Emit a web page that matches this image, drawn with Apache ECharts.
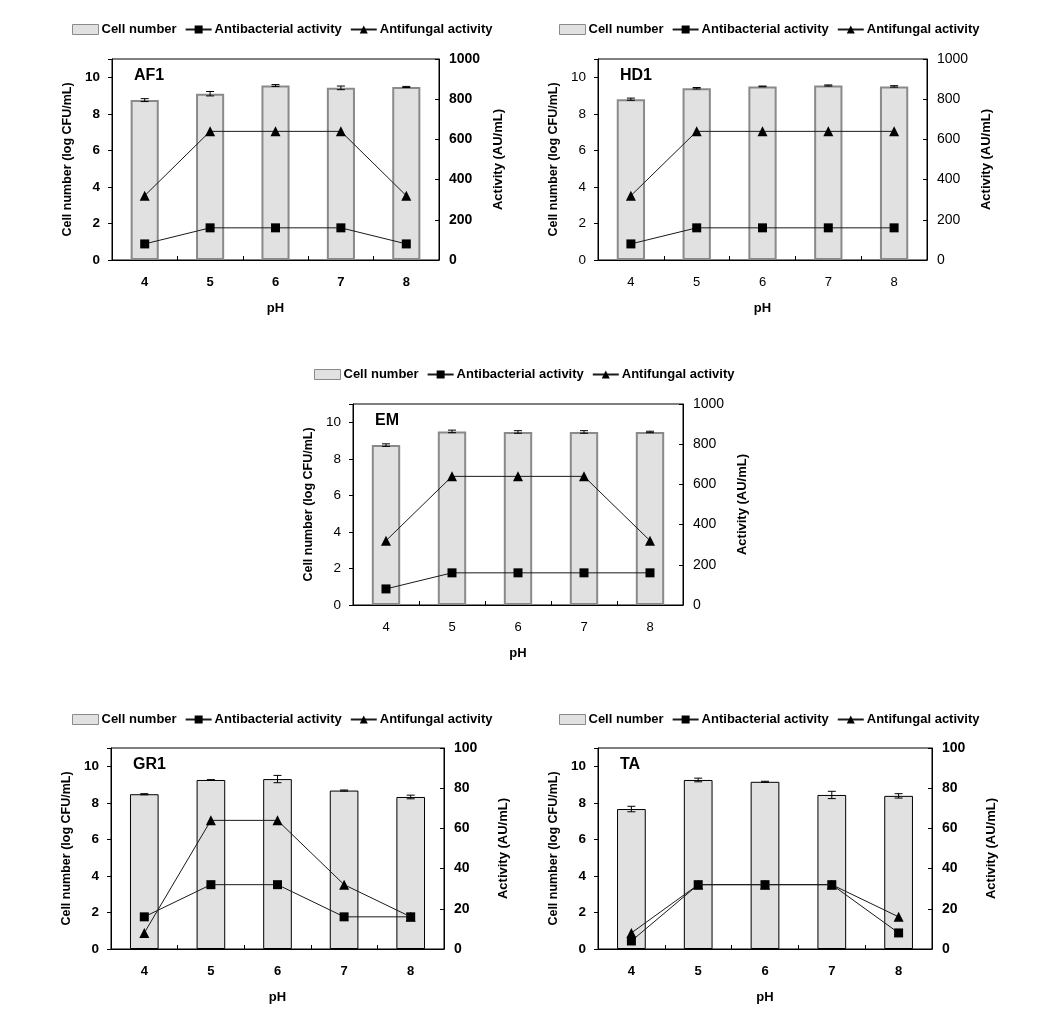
<!DOCTYPE html>
<html>
<head>
<meta charset="utf-8">
<script src="https://cdn.jsdelivr.net/npm/echarts@6/dist/echarts.min.js"></script>
<style>
html,body{margin:0;padding:0;background:#fff;}
#chart{width:1051px;height:1031px;}
</style>
</head>
<body>
<div id="chart"></div>
<script>
// ---- data ----
const categories = ['4', '5', '6', '7', '8'];
const seriesNames = ['Cell number', 'Antibacterial activity', 'Antifungal activity'];
const leftTicks = [0, 2, 4, 6, 8, 10];

const af1Cell = [8.75, 9.1, 9.55, 9.42, 9.47];
const af1CellErr = [0.08, 0.12, 0.05, 0.1, 0.03];
const af1Antibacterial = [80, 160, 160, 160, 80];
const af1Antifungal = [320, 640, 640, 640, 320];

const hd1Cell = [8.8, 9.4, 9.5, 9.55, 9.5];
const hd1CellErr = [0.06, 0.04, 0.02, 0.03, 0.04];
const hd1Antibacterial = [80, 160, 160, 160, 160];
const hd1Antifungal = [320, 640, 640, 640, 640];

const emCell = [8.75, 9.5, 9.47, 9.47, 9.47];
const emCellErr = [0.07, 0.07, 0.07, 0.07, 0.04];
const emAntibacterial = [80, 160, 160, 160, 160];
const emAntifungal = [320, 640, 640, 640, 320];

const gr1Cell = [8.47, 9.25, 9.3, 8.67, 8.32];
const gr1CellErr = [0.03, 0.02, 0.2, 0.03, 0.1];
const gr1Antibacterial = [16, 32, 32, 16, 16];
const gr1Antifungal = [8, 64, 64, 32, 16];

const taCell = [7.66, 9.25, 9.15, 8.43, 8.38];
const taCellErr = [0.15, 0.1, 0.03, 0.2, 0.12];
const taAntibacterial = [4, 32, 32, 32, 8];
const taAntifungal = [8, 32, 32, 32, 16];

// ---- layout ----
const panels = [
  {label: 'AF1', cell: af1Cell, err: af1CellErr, ab: af1Antibacterial, af: af1Antifungal,
   left: 112, top: 59, width: 327, height: 201, rmax: 1000, rint: 200, bold: true, barBorder: '#8a8a8a', barBorderW: 2, legendLeft: 72, legendTop: 23},
  {label: 'HD1', cell: hd1Cell, err: hd1CellErr, ab: hd1Antibacterial, af: hd1Antifungal,
   left: 598, top: 59, width: 329, height: 201, rmax: 1000, rint: 200, bold: false, barBorder: '#8a8a8a', barBorderW: 2, legendLeft: 559, legendTop: 23},
  {label: 'EM', cell: emCell, err: emCellErr, ab: emAntibacterial, af: emAntifungal,
   left: 353, top: 404, width: 330, height: 201, rmax: 1000, rint: 200, bold: false, barBorder: '#8a8a8a', barBorderW: 2, legendLeft: 314, legendTop: 368},
  {label: 'GR1', cell: gr1Cell, err: gr1CellErr, ab: gr1Antibacterial, af: gr1Antifungal,
   left: 111, top: 748, width: 333, height: 201, rmax: 100, rint: 20, bold: true, barBorder: '#000', barBorderW: 1, legendLeft: 72, legendTop: 713},
  {label: 'TA', cell: taCell, err: taCellErr, ab: taAntibacterial, af: taAntifungal,
   left: 598, top: 748, width: 334, height: 201, rmax: 100, rint: 20, bold: true, barBorder: '#000', barBorderW: 1, legendLeft: 559, legendTop: 713}
];

const FONT = '"Liberation Sans", Arial, sans-serif';
const grid = [], xAxis = [], yAxis = [], series = [], legend = [], title = [];

panels.forEach((p, i) => {
  const fw = p.bold ? 'bold' : 'normal';
  grid.push({left: p.left, top: p.top, width: p.width, height: p.height, show: true,
    borderColor: '#000', borderWidth: 1, backgroundColor: 'transparent', containLabel: false});
  xAxis.push({type: 'category', gridIndex: i, data: categories, boundaryGap: true,
    name: 'pH', nameLocation: 'middle', nameGap: 42,
    nameTextStyle: {fontFamily: FONT, fontSize: 13, fontWeight: 'bold', color: '#000'},
    axisLine: {show: true, lineStyle: {color: '#000', width: 1}},
    axisTick: {show: true, inside: true, length: 4, lineStyle: {color: '#000'}},
    axisLabel: {fontFamily: FONT, fontSize: 13, fontWeight: fw, color: '#000', margin: 16},
    splitLine: {show: false}});
  yAxis.push({type: 'value', gridIndex: i, position: 'left', min: 0, max: 11, interval: 2,
    name: 'Cell number (log CFU/mL)', nameLocation: 'middle', nameGap: 38,
    nameTextStyle: {fontFamily: FONT, fontSize: 12.5, fontWeight: 'bold', color: '#000'},
    axisLine: {show: true, lineStyle: {color: '#000'}},
    axisTick: {show: true, inside: false, length: 4, lineStyle: {color: '#000'}},
    axisLabel: {fontFamily: FONT, fontSize: 13.5, fontWeight: fw, color: '#000', margin: 12,
      formatter: v => (leftTicks.indexOf(v) >= 0 ? String(v) : '')},
    splitLine: {show: false}});
  yAxis.push({type: 'value', gridIndex: i, position: 'right', min: 0, max: p.rmax, interval: p.rint,
    name: 'Activity (AU/mL)', nameLocation: 'middle', nameGap: 53,
    nameTextStyle: {fontFamily: FONT, fontSize: 13, fontWeight: 'bold', color: '#000'},
    axisLine: {show: true, lineStyle: {color: '#000'}},
    axisTick: {show: true, inside: true, length: 4, lineStyle: {color: '#000'}},
    axisLabel: {fontFamily: FONT, fontSize: 14, fontWeight: fw, color: '#000', margin: 10,
      formatter: v => String(v)},
    splitLine: {show: false}});

  series.push({type: 'bar', name: seriesNames[0], xAxisIndex: i, yAxisIndex: 2 * i,
    data: p.cell, barWidth: '43%',
    itemStyle: {color: '#e1e1e1', borderColor: p.barBorder, borderWidth: p.barBorderW},
    z: 2});
  const errData = p.cell.map((v, k) => [k, v, p.err[k]]);
  series.push({type: 'custom', name: 'err' + i, xAxisIndex: i, yAxisIndex: 2 * i,
    data: errData, z: 3, silent: true,
    renderItem: function (params, api) {
      const x = api.value(0), v = api.value(1), e = api.value(2);
      const hi = api.coord([x, v + e]);
      const lo = api.coord([x, v - e]);
      const hw = 4;
      const st = {stroke: '#000', lineWidth: 1};
      return {type: 'group', children: [
        {type: 'line', shape: {x1: hi[0], y1: hi[1], x2: lo[0], y2: lo[1]}, style: st},
        {type: 'line', shape: {x1: hi[0] - hw, y1: hi[1], x2: hi[0] + hw, y2: hi[1]}, style: st},
        {type: 'line', shape: {x1: lo[0] - hw, y1: lo[1], x2: lo[0] + hw, y2: lo[1]}, style: st}
      ]};
    },
    encode: {x: 0, y: 1}});
  series.push({type: 'line', name: seriesNames[1], xAxisIndex: i, yAxisIndex: 2 * i + 1,
    data: p.ab, symbol: 'rect', symbolSize: 9,
    lineStyle: {color: '#1a1a1a', width: 1}, itemStyle: {color: '#000'}, z: 4});
  series.push({type: 'line', name: seriesNames[2], xAxisIndex: i, yAxisIndex: 2 * i + 1,
    data: p.af, symbol: 'triangle', symbolSize: 10,
    lineStyle: {color: '#1a1a1a', width: 1}, itemStyle: {color: '#000'}, z: 5});

  legend.push({left: p.legendLeft, top: p.legendTop, orient: 'horizontal', itemGap: 8, padding: 0,
    itemWidth: 26, itemHeight: 10, selectedMode: false,
    textStyle: {fontFamily: FONT, fontSize: 13, fontWeight: 'bold', color: '#000', padding: [0, 0, 0, -2]},
    data: [
      {name: seriesNames[0], icon: 'rect', itemStyle: {color: '#e1e1e1', borderColor: '#8a8a8a', borderWidth: 1}},
      {name: seriesNames[1]},
      {name: seriesNames[2]}
    ]});
  title.push({text: p.label, left: p.left + 17, top: p.top + 4,
    textStyle: {fontFamily: FONT, fontSize: 16, fontWeight: 'bold', color: '#000'}});
});

const chart = echarts.init(document.getElementById('chart'), null, {renderer: 'canvas'});
chart.setOption({
  animation: false,
  backgroundColor: '#fff',
  title: title,
  legend: legend,
  grid: grid,
  xAxis: xAxis,
  yAxis: yAxis,
  series: series
});
</script>
</body>
</html>
